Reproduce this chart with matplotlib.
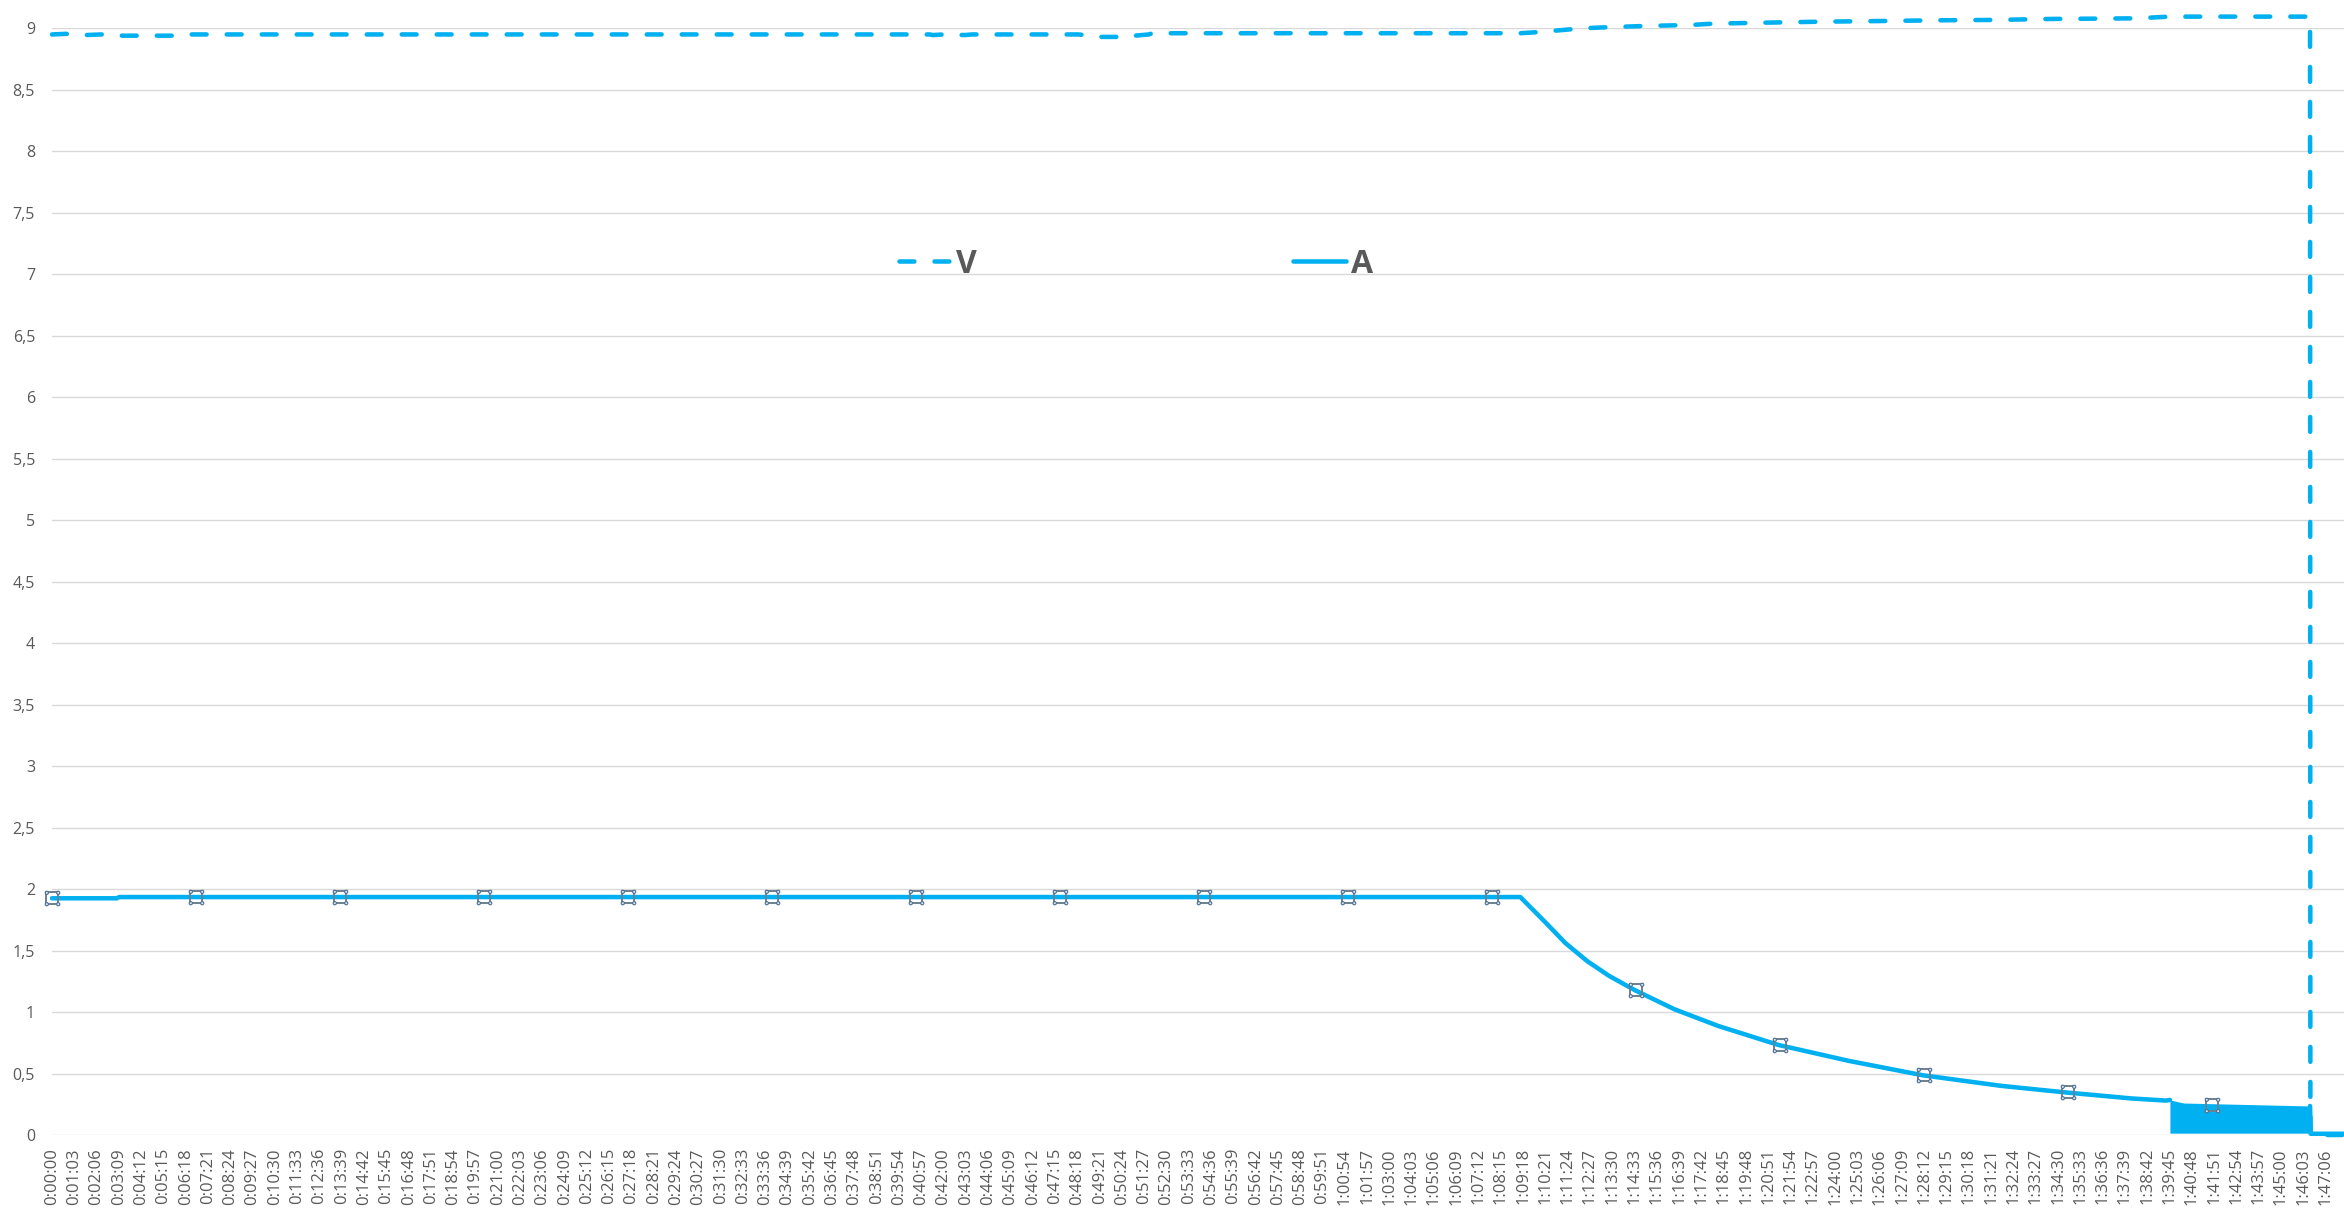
import numpy as np
import matplotlib
matplotlib.use("Agg")
import matplotlib.pyplot as plt
from matplotlib.path import Path
from matplotlib.ticker import FixedLocator, FuncFormatter

# ---------------- data (x = seconds since start) ----------------
V_t = [0, 40, 60, 95, 140, 200, 370, 390, 2480, 2490, 2520, 2580, 2600, 2900,
       2940, 2960, 3010, 3020, 3060, 3100, 3110, 4150, 4195, 4269, 4325, 4390,
       4503, 4631, 4696, 4843, 5004, 5165, 5327, 5488, 5649, 5890, 5986, 6382,
       6383, 6478]
V_v = [8.95, 8.955, 8.945, 8.945, 8.95, 8.94, 8.94, 8.95, 8.95, 8.945, 8.95,
       8.945, 8.95, 8.95, 8.94, 8.93, 8.93, 8.945, 8.94, 8.95, 8.96, 8.96,
       8.968, 8.986, 9.0, 9.008, 9.019, 9.027, 9.038, 9.046, 9.054, 9.059,
       9.065, 9.068, 9.076, 9.081, 9.095, 9.095, 0.0, 0.0]

A_t = [0, 183, 190, 4150, 4218, 4277, 4339, 4402, 4475, 4586, 4710, 4880,
       5078, 5287, 5508, 5692, 5878, 5975, 5986]
A_v = [1.925, 1.925, 1.935, 1.935, 1.738, 1.562, 1.414, 1.292, 1.176, 1.022,
       0.886, 0.732, 0.603, 0.486, 0.40, 0.346, 0.297, 0.28, 0.285]

A_burst_t = [5986, 6025, 6382]
A_burst_hi = [0.285, 0.26, 0.236]
A_burst_lo = [0.015, 0.015, 0.015]

A_tail_t = [6382, 6384, 6478]
A_tail_v = [0.236, 0.01, 0.01]

mark_t = [0, 407, 814, 1221, 1628, 2035, 2442, 2849, 3256, 3663, 4070, 4477,
          4884, 5291, 5698, 6105]
mark_v = [1.925, 1.935, 1.935, 1.935, 1.935, 1.935, 1.935, 1.935, 1.935,
          1.935, 1.935, 1.176, 0.732, 0.486, 0.346, 0.24]

series_names = ["V", "A"]
tick_step_s = 63
last_tick_s = 6426
x_max_s = 6478
y_ticks = np.arange(0, 9.01, 0.5)

# ---------------- style ----------------
plt.rcParams["font.family"] = ["Open Sans", "DejaVu Sans"]
plt.rcParams["lines.scale_dashes"] = False
BLUE = "#00B0F0"
TXT = "#595959"
GRID = "#D9D9D9"
LW = 3.25

W, H = 2344, 1219
fig = plt.figure(figsize=(W / 100, H / 100), dpi=100)
left_px, bottom_px, top_px = 52, 1135, 28.3
ax = fig.add_axes([left_px / W, 1 - bottom_px / H, 1 - left_px / W,
                   (bottom_px - top_px) / H])

ax.set_xlim(0, x_max_s)
ax.set_ylim(0, 9)
for s in ax.spines.values():
    s.set_visible(False)

ax.yaxis.set_major_locator(FixedLocator(y_ticks))
ax.yaxis.set_major_formatter(FuncFormatter(lambda v, p: f"{v:g}".replace(".", ",")))
ax.grid(axis="y", color=GRID, lw=1.0)
ax.set_axisbelow(True)

ticks = np.arange(0, last_tick_s + 1, tick_step_s)


def hms(s, pos=None):
    s = int(round(s))
    return f"{s // 3600}:{(s % 3600) // 60:02d}:{s % 60:02d}"


ax.xaxis.set_major_locator(FixedLocator(ticks))
ax.xaxis.set_major_formatter(FuncFormatter(hms))
ax.tick_params(axis="x", length=0, pad=9.4, labelsize=12, labelcolor=TXT,
               labelrotation=90)
ax.tick_params(axis="y", length=0, pad=12.2, labelsize=11.5, labelcolor=TXT)

# ---------------- series ----------------
lineA, = ax.plot(A_t, A_v, color=BLUE, lw=LW, solid_capstyle="round",
                 solid_joinstyle="round", clip_on=False, label=series_names[1],
                 zorder=3)
ax.fill_between(A_burst_t, A_burst_lo, A_burst_hi, color=BLUE, lw=0, zorder=3)
ax.plot(A_tail_t, A_tail_v, color=BLUE, lw=LW, solid_capstyle="round",
        clip_on=False, zorder=3)

lineV, = ax.plot(V_t, V_v, color=BLUE, lw=LW, dashes=(10.7, 14.5),
                 dash_capstyle="round", dash_joinstyle="round", clip_on=False,
                 label=series_names[0], zorder=4)

# selection-handle style markers on A
ax.plot(mark_t, mark_v, ls="none", marker="s", ms=8.2, mfc="none",
        mec="#6E7F91", mew=1.4, clip_on=False, zorder=5)
corner = Path.make_compound_path(*[Path.circle((dx, dy), 0.14)
                                   for dx in (-0.5, 0.5) for dy in (-0.5, 0.5)])
ax.plot(mark_t, mark_v, ls="none", marker=corner, ms=10.5, mfc="#D6E6F4",
        mec="#4F6F8F", mew=0.8, clip_on=False, zorder=6)

# ---------------- legend ----------------
fs = 23
fpx = fs * 100 / 72
leg = fig.legend(handles=[lineV, lineA], labels=series_names, ncol=2,
                 loc="center left", bbox_to_anchor=(899 / W, 1 - 264 / H),
                 frameon=False, borderpad=0, borderaxespad=0,
                 handlelength=53 / fpx, handletextpad=0.13,
                 columnspacing=9.91,
                 prop={"size": fs, "weight": "bold"})
for t in leg.get_texts():
    t.set_color(TXT)

fig.savefig("out.png", dpi=100)
